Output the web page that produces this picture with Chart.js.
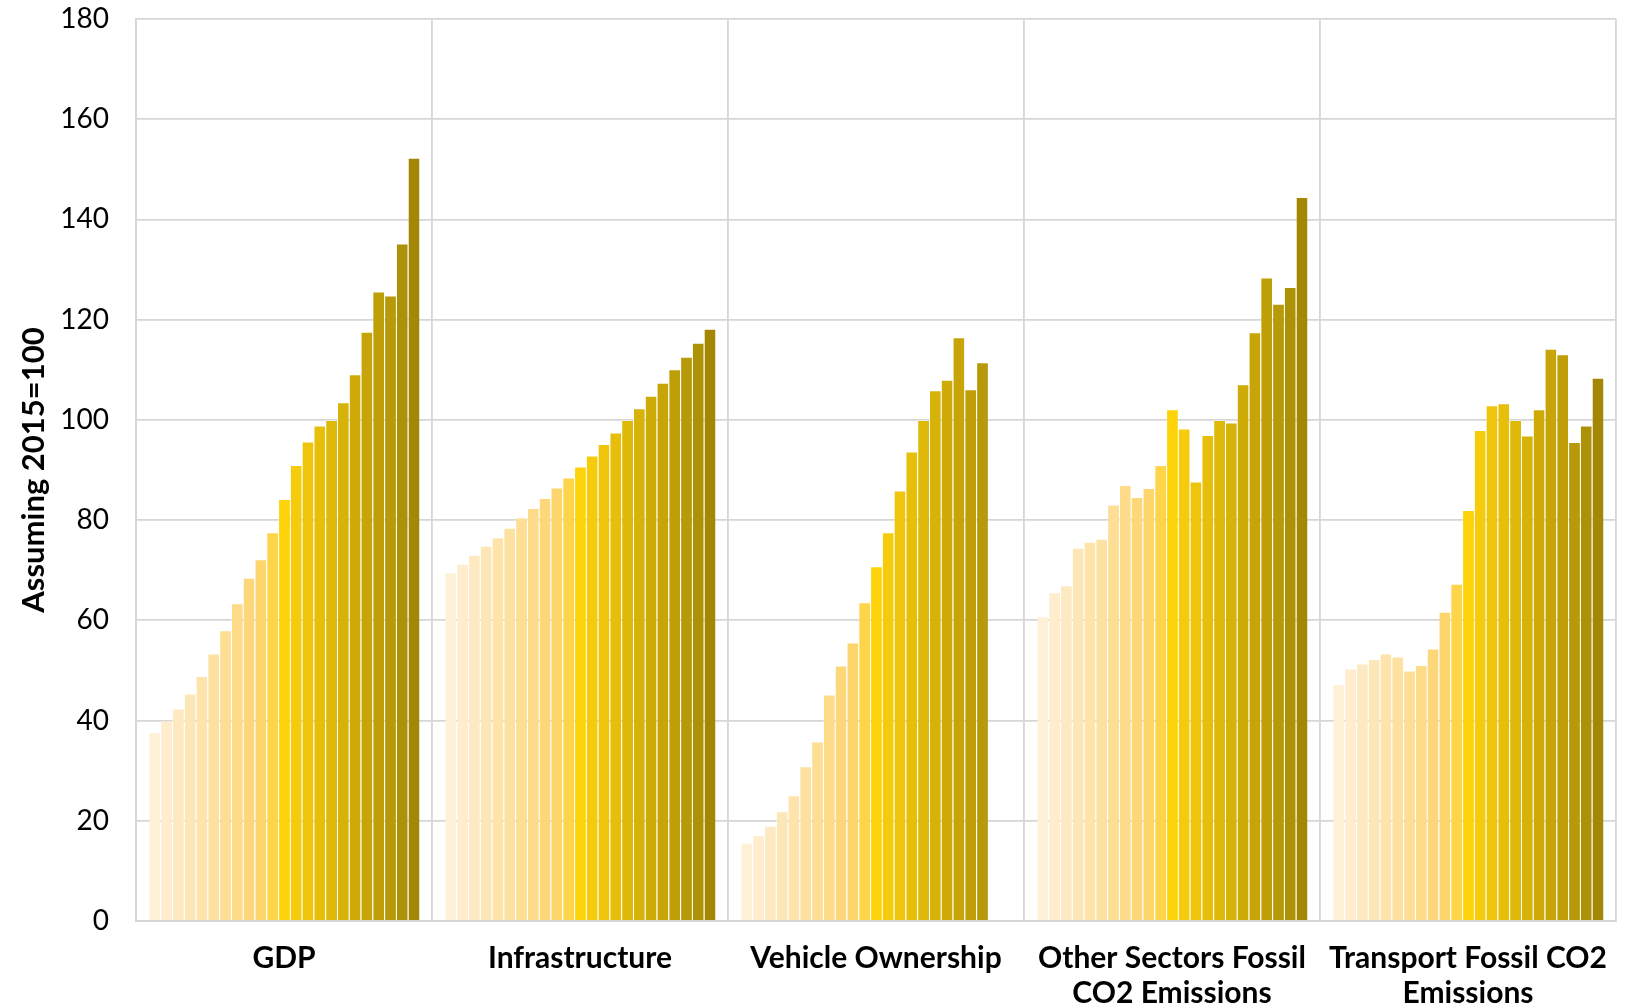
<!DOCTYPE html>
<html>
<head>
<meta charset="utf-8">
<script src="https://cdn.jsdelivr.net/npm/chart.js@4/dist/chart.umd.min.js"></script>
<style>
  html, body { margin: 0; padding: 0; background: #fff; }
  #wrap { width: 1635px; height: 1004px; position: relative; }
</style>
</head>
<body>
<div id="wrap"><canvas id="c"></canvas></div>
<script>
// Indicators shown along the x axis (multi-line labels as arrays)
const categories = [
  'GDP',
  'Infrastructure',
  'Vehicle Ownership',
  ['Other Sectors Fossil', 'CO2 Emissions'],
  ['Transport Fossil CO2', 'Emissions']
];

// One bar per year inside each indicator group, index 2015 = 100
const years = [2000, 2001, 2002, 2003, 2004, 2005, 2006, 2007, 2008, 2009, 2010, 2011,
               2012, 2013, 2014, 2015, 2016, 2017, 2018, 2019, 2020, 2021, 2022];

const gdp = [37.7, 40.0, 42.4, 45.4, 48.9, 53.4, 58.0, 63.4, 68.5, 72.2, 77.6, 84.2,
             91.0, 95.7, 98.9, 100.0, 103.5, 109.1, 117.6, 125.6, 124.8, 135.2, 152.3];

const infrastructure = [69.6, 71.3, 73.1, 74.9, 76.6, 78.5, 80.5, 82.4, 84.4, 86.5, 88.5, 90.7,
                        92.9, 95.2, 97.5, 100.0, 102.3, 104.8, 107.4, 110.1, 112.6, 115.4, 118.2];

const vehicleOwnership = [15.6, 17.1, 19.0, 21.9, 25.1, 30.9, 35.8, 45.2, 51.0, 55.6, 63.6, 70.8,
                          77.6, 85.9, 93.7, 100.0, 105.9, 108.0, 116.5, 106.1, 111.5, null, null];

const otherSectorsCO2 = [60.8, 65.6, 67.0, 74.5, 75.7, 76.3, 83.1, 87.0, 84.6, 86.4, 91.0, 102.1,
                         98.3, 87.7, 97.0, 100.0, 99.5, 107.1, 117.5, 128.4, 123.2, 126.5, 144.5];

const transportCO2 = [47.3, 50.4, 51.4, 52.3, 53.4, 52.8, 50.0, 51.1, 54.4, 61.7, 67.3, 82.0,
                      98.0, 102.9, 103.3, 100.0, 96.9, 102.1, 114.2, 113.1, 95.6, 98.9, 108.4];

// y axis ticks
const yTicks = [0, 20, 40, 60, 80, 100, 120, 140, 160, 180];

// Year palette: pale cream through bright gold to dark olive gold
const yearColors = [
  '#FFF1D8', '#FFEDCD', '#FEEAC2', '#FEE7B7', '#FEE4AB', '#FDE1A0', '#FDDE94', '#FDDB88',
  '#FDD87B', '#FDD66D', '#FED44B', '#FFD30A', '#F6CB0B', '#EEC50B', '#E7BF0A', '#DFB90A',
  '#D7B209', '#CFAB08', '#C7A508', '#BF9F08', '#B79909', '#AD9107', '#A38705'
];

const series = [gdp, infrastructure, vehicleOwnership, otherSectorsCO2, transportCO2];

const datasets = years.map((yr, i) => ({
  label: String(yr),
  data: series.map(s => s[i]),
  backgroundColor: yearColors[i],
  borderColor: 'rgba(255,255,255,0.35)',
  borderWidth: { left: 1, top: 1, right: 0, bottom: 0 },
  borderSkipped: false,
  barPercentage: 1.0,
  categoryPercentage: 0.9155
}));

const gridColor = '#D6D6D6';

new Chart(document.getElementById('c'), {
  type: 'bar',
  data: { labels: categories, datasets },
  options: {
    responsive: true,
    maintainAspectRatio: false,
    animation: false,
    layout: { padding: { top: 0, right: 19, left: 0, bottom: 0 } },
    plugins: {
      legend: { display: false },
      tooltip: { enabled: false }
    },
    scales: {
      x: {
        grid: { display: true, color: gridColor, lineWidth: 1.8, drawTicks: false, offset: true },
        border: { display: true, color: gridColor, width: 2 },
        ticks: {
          color: '#000',
          padding: 20,
          maxRotation: 0,
          autoSkip: false,
          font: { family: "'Lato', sans-serif", size: 30, weight: 'bold', lineHeight: 1.17 }
        },
        afterFit(scale) { scale.height = 83; }
      },
      y: {
        min: 0,
        max: 180,
        afterBuildTicks(scale) { scale.ticks = yTicks.map(v => ({ value: v })); },
        grid: { color: gridColor, lineWidth: 1.8, drawTicks: false },
        border: { display: true, color: gridColor, width: 2 },
        ticks: {
          color: '#000',
          padding: 27,
          font: { family: "'Lato', sans-serif", size: 28, lineHeight: 1.2 }
        },
        title: {
          display: true,
          text: 'Assuming 2015=100',
          color: '#000',
          padding: { top: 15, bottom: 0 },
          font: { family: "'Lato', sans-serif", size: 31, weight: 'bold', lineHeight: 1.2 }
        },
        afterFit(scale) {
          scale.width = 136;
          // room above the plot for the top tick label
          scale.paddingTop = 19;
          scale.paddingBottom = 17;
        }
      }
    }
  }
});
</script>
</body>
</html>
